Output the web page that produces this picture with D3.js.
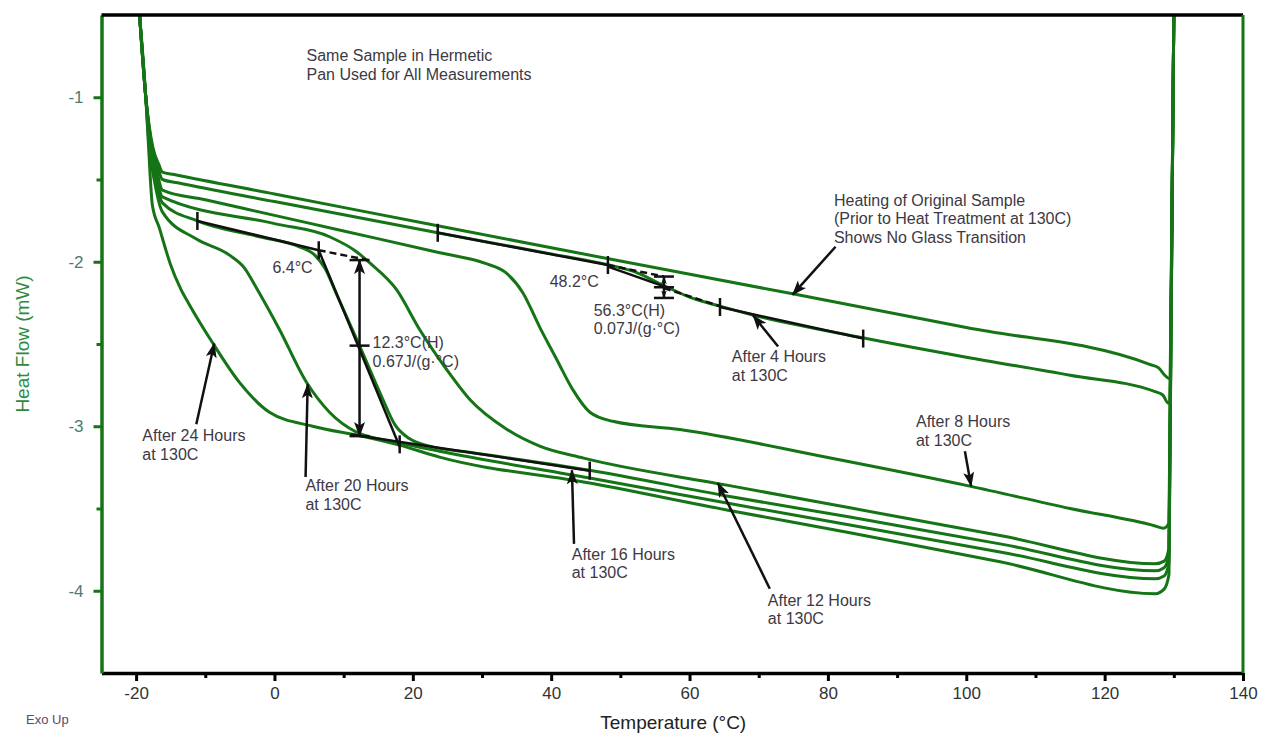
<!DOCTYPE html>
<html lang="en">
<head>
  <meta charset="UTF-8">
  <title>Heat Flow vs Temperature - Hermetic Pan</title>
  <script src="https://d3js.org/d3.v7.min.js"></script>
  <style>
    body {
      margin: 0;
      background: #fff;
    }

    svg {
      display: block;
      font-family: 'Liberation Sans', Arial, sans-serif;
    }

    .curve {
      fill: none;
      stroke: #157415;
      stroke-width: 3;
      stroke-linejoin: round;
    }

    .note {
      font-size: 16px;
      fill: #3d3944;
    }

    .mark {
      fill: none;
      stroke: #111;
      stroke-width: 2.5;
    }

    .mark.dash {
      stroke-dasharray: 7 4;
    }

    .x-axis text {
      font-family: 'Liberation Sans', Arial, sans-serif;
      font-size: 17px;
      fill: #333;
    }

    .y-axis text {
      font-family: 'Liberation Sans', Arial, sans-serif;
      font-size: 17px;
      fill: #4a7c70;
    }
  </style>
</head>
<body>

<svg></svg>

<script>
// Axis ticks
const tempTicks = [-20, 0, 20, 40, 60, 80, 100, 120, 140];
const tempMinor = [-10, 10, 30, 50, 70, 90, 110, 130];
const flowTicks = [-1, -2, -3, -4];
const flowMinor = [-1.5, -2.5, -3.5];

// Traces: [temperature °C, heat flow mW]
const original = [[-19.5,-0.5],[-18.6,-1.0],[-17.6,-1.30],[-16.7,-1.41],[-16.2,-1.455],[-14.5,-1.47],[0,-1.588],[23.4,-1.78],[50,-1.996],[74.9,-2.195],[100,-2.40],[126.6,-2.625],[127.8,-2.645],[128.7,-2.69],[129.3,-2.71],[130.0,-0.5]];

const after4h = [[-19.5,-0.5],[-18.6,-1.0],[-17.7,-1.30],[-16.9,-1.42],[-16.2,-1.50],[-14,-1.52],[0,-1.634],[23.6,-1.824],[40,-1.952],[48.2,-2.018],[52,-2.06],[56.3,-2.145],[60,-2.215],[64.4,-2.27],[69,-2.322],[85,-2.462],[100,-2.58],[115,-2.69],[127.3,-2.79],[128.4,-2.81],[129.2,-2.86],[130.0,-0.5]];

const after8h = [[-19.5,-0.5],[-18.6,-1.0],[-17.8,-1.30],[-17.0,-1.45],[-16.2,-1.564],[-10,-1.623],[0,-1.718],[10,-1.813],[23.9,-1.945],[30.5,-2.01],[33.4,-2.065],[35.9,-2.188],[38.3,-2.394],[40.8,-2.594],[43.1,-2.776],[45.6,-2.915],[48.9,-2.97],[58.6,-3.02],[80,-3.19],[100.5,-3.364],[115,-3.50],[127.3,-3.606],[128.5,-3.62],[129.3,-3.59],[130.0,-0.5]];

const after12h = [[-19.5,-0.5],[-18.6,-1.0],[-17.9,-1.30],[-17.1,-1.47],[-16.2,-1.606],[0,-1.768],[7.96,-1.848],[11.86,-1.939],[13.74,-2.006],[17.65,-2.17],[20.98,-2.412],[24.88,-2.655],[28.21,-2.836],[33.56,-3.018],[38.34,-3.121],[44.7,-3.194],[65.39,-3.358],[83.18,-3.496],[104.88,-3.664],[127.31,-3.836],[128.6,-3.82],[129.3,-3.74],[130.0,-0.5]];

const after16h = [[-19.5,-0.5],[-18.6,-1.0],[-18.0,-1.30],[-17.2,-1.49],[-16.2,-1.642],[-11.14,-1.752],[-2.17,-1.848],[3.62,-1.909],[5.79,-1.958],[7.3,-2.04],[9.0,-2.2],[12.5,-2.53],[15.6,-2.83],[17.4,-2.99],[19.5,-3.075],[22.42,-3.121],[28.21,-3.158],[45.57,-3.267],[65.39,-3.424],[83.18,-3.552],[104.88,-3.715],[127.31,-3.879],[128.6,-3.86],[129.3,-3.78],[130.0,-0.5]];

const after20h = [[-19.5,-0.5],[-18.6,-1.0],[-18.1,-1.30],[-17.3,-1.52],[-16.2,-1.697],[-11.28,-1.862],[-6.5,-1.96],[-4.3,-2.04],[-2.6,-2.16],[0.72,-2.412],[4.63,-2.733],[7.96,-2.915],[11.86,-3.036],[17.65,-3.097],[23.87,-3.152],[45.57,-3.315],[65.39,-3.467],[83.18,-3.6],[104.88,-3.764],[127.31,-3.927],[128.6,-3.91],[129.3,-3.83],[130.0,-0.5]];

const after24h = [[-19.5,-0.5],[-18.6,-1.0],[-18.2,-1.30],[-17.65,-1.655],[-16.64,-1.794],[-15.62,-1.939],[-15.0,-2.02],[-13.5,-2.17],[-12.3,-2.261],[-8.97,-2.491],[-5.06,-2.733],[-0.72,-2.915],[5.5,-3.0],[12.73,-3.061],[18.08,-3.115],[23.87,-3.188],[45.57,-3.345],[65.39,-3.509],[83.18,-3.648],[104.88,-3.824],[127.31,-4.018],[128.6,-3.99],[129.3,-3.90],[130.0,-0.5]];

const runs = [original, after4h, after8h, after12h, after16h, after20h, after24h];

// Text callouts, anchored in data units
const callouts = [
  { lines: ["Same Sample in Hermetic", "Pan Used for All Measurements"], at: [4.63, -0.782] },
  { lines: ["Heating of Original Sample", "(Prior to Heat Treatment at 130C)", "Shows No Glass Transition"], at: [80.87, -1.661], from: [81.1, -1.909], to: [74.9, -2.20] },
  { lines: ["After 4 Hours", "at 130C"], at: [66.11, -2.612], from: [72.8, -2.515], to: [69.2, -2.327] },
  { lines: ["After 8 Hours", "at 130C"], at: [92.73, -3.006], from: [99.8, -3.152], to: [100.7, -3.364] },
  { lines: ["After 12 Hours", "at 130C"], at: [71.32, -4.091], from: [71.6, -3.988], to: [64.1, -3.345] },
  { lines: ["After 16 Hours", "at 130C"], at: [42.97, -3.812], from: [43.3, -3.715], to: [43.0, -3.267] },
  { lines: ["After 20 Hours", "at 130C"], at: [4.48, -3.394], from: [4.5, -3.309], to: [4.8, -2.745] },
  { lines: ["After 24 Hours", "at 130C"], at: [-19.1, -3.091], from: [-11.3, -2.988], to: [-8.7, -2.497] },
  { lines: ["6.4°C"], at: [-0.29, -2.067] },
  { lines: ["12.3°C(H)", "0.67J/(g·°C)"], at: [14.18, -2.527] },
  { lines: ["48.2°C"], at: [39.78, -2.152] },
  { lines: ["56.3°C(H)", "0.07J/(g·°C)"], at: [46.15, -2.327] }
];

// Glass transition analysis marks (16 h and 4 h runs)
const solidMarks = [
  [[-11.14, -1.752], [6.4, -1.93]],
  [[6.4, -1.93], [18.1, -3.125]],
  [[11.0, -3.05], [45.57, -3.27]],
  [[23.6, -1.824], [48.2, -2.02]],
  [[48.2, -2.03], [56.3, -2.15]],
  [[64.4, -2.275], [85.1, -2.467]]
];
const dashedMarks = [
  [[6.4, -1.93], [13.6, -1.99]],
  [[48.2, -2.02], [56.3, -2.09]],
  [[56.3, -2.16], [64.4, -2.27]]
];
const endBars = [[-11.14, -1.752], [6.4, -1.93], [18.1, -3.11], [45.57, -3.27], [23.6, -1.824], [48.2, -2.02], [64.4, -2.275], [85.1, -2.467]];
const steps = [
  { t: 12.3, top: -1.99, mid: -2.51, bottom: -3.06, head: "head" },
  { t: 56.3, top: -2.09, mid: -2.155, bottom: -2.22, head: "headSmall" }
];

const width = 1266, height = 735;
const svg = d3.select("svg").attr("width", width).attr("height", height);

const x = d3.scaleLinear().domain([-25, 140]).range([101.5, 1243]);
const y = d3.scaleLinear().domain([-4.5, -0.5]).range([673, 15]);

const defs = svg.append("defs");
defs.append("clipPath").attr("id", "plot")
  .append("rect")
  .attr("x", x(-25)).attr("y", y(-0.5))
  .attr("width", x(140) - x(-25)).attr("height", y(-4.5) - y(-0.5));

defs.append("marker").attr("id", "head")
  .attr("viewBox", "0 -6 15 12").attr("refX", 14).attr("refY", 0)
  .attr("markerWidth", 15).attr("markerHeight", 12)
  .attr("markerUnits", "userSpaceOnUse").attr("orient", "auto-start-reverse")
  .append("path").attr("d", "M0,-5.5L15,0L0,5.5L3.5,0Z").attr("fill", "#111");

defs.append("marker").attr("id", "headSmall")
  .attr("viewBox", "0 -5 13 10").attr("refX", 12).attr("refY", 0)
  .attr("markerWidth", 8).attr("markerHeight", 7)
  .attr("markerUnits", "userSpaceOnUse").attr("orient", "auto-start-reverse")
  .append("path").attr("d", "M0,-4.5L13,0L0,4.5L3,0Z").attr("fill", "#111");

// Traces
const line = d3.line()
  .x(d => x(d[0]))
  .y(d => y(d[1]))
  .curve(d3.curveMonotoneX);

svg.append("g")
  .attr("clip-path", "url(#plot)")
  .selectAll("path")
  .data(runs)
  .join("path")
  .attr("class", "curve")
  .attr("d", line);

// Analysis marks
const marks = svg.append("g");
const seg = d3.line().x(d => x(d[0])).y(d => y(d[1]));

marks.selectAll("path.solid").data(solidMarks).join("path")
  .attr("class", "mark solid").attr("d", seg);
marks.selectAll("path.dash").data(dashedMarks).join("path")
  .attr("class", "mark dash").attr("d", seg);
marks.selectAll("line.bar").data(endBars).join("line")
  .attr("class", "mark bar")
  .attr("stroke-width", 3)
  .attr("x1", d => x(d[0])).attr("x2", d => x(d[0]))
  .attr("y1", d => y(d[1]) - 9).attr("y2", d => y(d[1]) + 9);

steps.forEach(s => {
  marks.append("line").attr("class", "mark")
    .attr("x1", x(s.t)).attr("x2", x(s.t))
    .attr("y1", y(s.top)).attr("y2", y(s.bottom))
    .attr("marker-start", `url(#${s.head})`)
    .attr("marker-end", `url(#${s.head})`);
  [s.top, s.mid, s.bottom].forEach(v => {
    marks.append("line").attr("class", "mark")
      .attr("stroke-width", 3)
      .attr("x1", x(s.t) - 10).attr("x2", x(s.t) + 10)
      .attr("y1", y(v)).attr("y2", y(v));
  });
});

// Callouts
const notes = svg.append("g");
callouts.forEach(c => {
  const t = notes.append("text").attr("class", "note")
    .attr("x", x(c.at[0])).attr("y", y(c.at[1]));
  c.lines.forEach((s, i) => {
    t.append("tspan").attr("x", x(c.at[0])).attr("dy", i ? 18.5 : 0).text(s);
  });
  if (c.from) {
    notes.append("line")
      .attr("stroke", "#111").attr("stroke-width", 2.5)
      .attr("x1", x(c.from[0])).attr("y1", y(c.from[1]))
      .attr("x2", x(c.to[0])).attr("y2", y(c.to[1]))
      .attr("marker-end", "url(#head)");
  }
});

// Axes
const xAxis = svg.append("g").attr("class", "x-axis")
  .attr("transform", `translate(0,${y(-4.5)})`)
  .call(d3.axisBottom(x).tickValues(tempTicks).tickSize(8).tickSizeOuter(0)
    .tickPadding(6).tickFormat(d => String(d)));
xAxis.select(".domain").attr("stroke", "#000").attr("stroke-width", 3.5);
xAxis.selectAll(".tick line").attr("stroke", "#000").attr("stroke-width", 3);

svg.append("g")
  .attr("transform", `translate(0,${y(-4.5)})`)
  .call(d3.axisBottom(x).tickValues(tempMinor).tickSize(5).tickFormat(""))
  .call(g => g.select(".domain").remove())
  .selectAll("line").attr("stroke", "#000").attr("stroke-width", 3);

const yAxis = svg.append("g").attr("class", "y-axis")
  .attr("transform", `translate(${x(-25)},0)`)
  .call(d3.axisLeft(y).tickValues(flowTicks).tickSize(8).tickSizeOuter(0)
    .tickPadding(10).tickFormat(d => String(d)));
yAxis.select(".domain").attr("stroke", "#157415").attr("stroke-width", 3.5);
yAxis.selectAll(".tick line").attr("stroke", "#157415").attr("stroke-width", 3);

svg.append("g")
  .attr("transform", `translate(${x(-25)},0)`)
  .call(d3.axisLeft(y).tickValues(flowMinor).tickSize(5).tickFormat(""))
  .call(g => g.select(".domain").remove())
  .selectAll("line").attr("stroke", "#157415").attr("stroke-width", 3);

// frame: black top, green right
svg.append("line")
  .attr("x1", x(-25)).attr("x2", x(140))
  .attr("y1", y(-0.5)).attr("y2", y(-0.5))
  .attr("stroke", "#000").attr("stroke-width", 3.5);
svg.append("line")
  .attr("x1", x(140)).attr("x2", x(140))
  .attr("y1", y(-0.5)).attr("y2", y(-4.5))
  .attr("stroke", "#157415").attr("stroke-width", 3);

// Titles
svg.append("text")
  .attr("x", (x(-25) + x(140)) / 2 + 1).attr("y", 729)
  .attr("text-anchor", "middle")
  .attr("font-size", 19).attr("fill", "#222")
  .text("Temperature (°C)");

svg.append("text")
  .attr("transform", `translate(29,${y(-2.5)}) rotate(-90)`)
  .attr("text-anchor", "middle")
  .attr("font-size", 19).attr("fill", "#2d8a3c")
  .text("Heat Flow (mW)");

svg.append("text")
  .attr("x", 26).attr("y", 724)
  .attr("font-size", 13).attr("fill", "#5c4a6a")
  .text("Exo Up");
</script>

</body>
</html>
